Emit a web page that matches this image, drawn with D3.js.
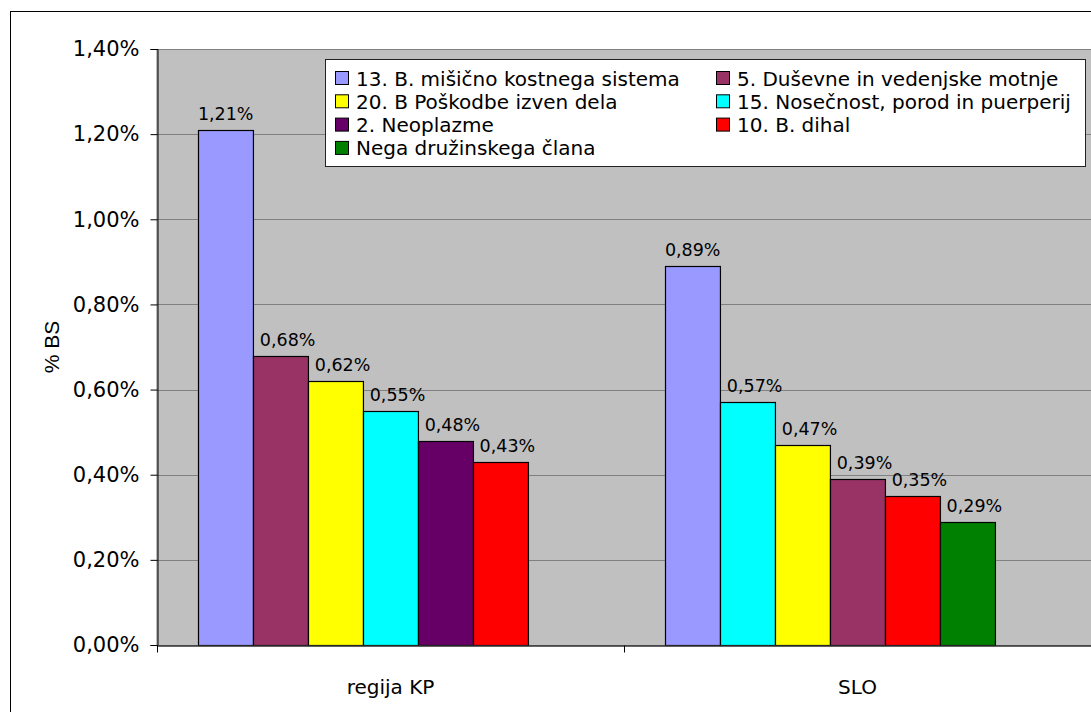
<!DOCTYPE html>
<html>
<head>
<meta charset="utf-8">
<script src="https://cdn.jsdelivr.net/npm/d3@7"></script>
<style>
  body { margin: 0; background: #fff; }
  .sans { font-family: 'DejaVu Sans', sans-serif; }
</style>
</head>
<body>
<div class="chart-container"></div>
<script>
//! DATA
const series = [
  '13. B. mišično kostnega sistema',
  '5. Duševne in vedenjske motnje',
  '20. B Poškodbe izven dela',
  '15. Nosečnost, porod in puerperij',
  '2. Neoplazme',
  '10. B. dihal',
  'Nega družinskega člana'
]
const seriesColors = ['#9999FF', '#993366', '#FFFF00', '#00FFFF', '#660066', '#FF0000', '#008000']

const groups = ['regija KP', 'SLO']

const kpSeries = ['13. B. mišično kostnega sistema', '5. Duševne in vedenjske motnje', '20. B Poškodbe izven dela',
  '15. Nosečnost, porod in puerperij', '2. Neoplazme', '10. B. dihal']
const kpValues = [1.21, 0.68, 0.62, 0.55, 0.48, 0.43]

const sloSeries = ['13. B. mišično kostnega sistema', '15. Nosečnost, porod in puerperij', '20. B Poškodbe izven dela',
  '5. Duševne in vedenjske motnje', '10. B. dihal', 'Nega družinskega člana']
const sloValues = [0.89, 0.57, 0.47, 0.39, 0.35, 0.29]

const yTicks = [0, 0.2, 0.4, 0.6, 0.8, 1.0, 1.2, 1.4]

//! CONSTS
const WIDTH = 1091
const HEIGHT = 712
const PLOT = { left: 157, top: 49, right: 1091, bottom: 645 }

const locale = d3.formatLocale({ decimal: ',', thousands: '.', grouping: [3], currency: ['', ''] })
const fmt = d => locale.format('.2f')(d) + '%'

const bars = [
  ...kpSeries.map((s, i) => ({ group: groups[0], name: s, slot: i, value: kpValues[i] })),
  ...sloSeries.map((s, i) => ({ group: groups[1], name: s, slot: i, value: sloValues[i] }))
]

//! SVG
const svg = d3.select('.chart-container')
  .append('svg')
  .attr('width', WIDTH)
  .attr('height', HEIGHT)

// outer chart border
svg.append('rect')
  .attr('x', 10.5).attr('y', 11.5)
  .attr('width', 1110).attr('height', 740)
  .attr('fill', '#fff').attr('stroke', '#000')

//! SCALES
const x0 = d3.scaleBand()
  .domain(groups)
  .range([PLOT.left, PLOT.right])

const x1 = d3.scaleBand()
  .domain(d3.range(series.length))
  .range([0, x0.bandwidth()])
  .paddingOuter(0.75)

const y = d3.scaleLinear()
  .domain([0, 1.4])
  .range([PLOT.bottom, PLOT.top])

const color = d3.scaleOrdinal().domain(series).range(seriesColors)

// plot area
svg.append('rect')
  .attr('x', PLOT.left).attr('y', PLOT.top + 0.5)
  .attr('width', PLOT.right - PLOT.left + 10).attr('height', PLOT.bottom - PLOT.top)
  .attr('fill', '#C0C0C0').attr('stroke', '#808080')

// gridlines
svg.append('g')
  .selectAll('line')
  .data(yTicks.slice(1, -1))
  .enter()
  .append('line')
  .attr('x1', PLOT.left).attr('x2', PLOT.right)
  .attr('y1', d => Math.round(y(d)) + 0.5).attr('y2', d => Math.round(y(d)) + 0.5)
  .attr('stroke', '#808080')

//! BARS
svg.append('g')
  .selectAll('rect')
  .data(bars)
  .enter()
  .append('rect')
  .attr('x', d => Math.round(x0(d.group) + x1(d.slot)) + 0.5)
  .attr('y', d => Math.round(y(d.value)) + 0.5)
  .attr('width', x1.bandwidth())
  .attr('height', d => Math.round(y(0)) - Math.round(y(d.value)))
  .attr('fill', d => color(d.name))
  .attr('stroke', '#000')
  .attr('stroke-width', 1.2)

svg.append('g')
  .selectAll('text')
  .data(bars)
  .enter()
  .append('text')
  .attr('class', 'sans')
  .attr('x', d => x0(d.group) + x1(d.slot) + x1.bandwidth() / 2 + (d.slot ? 7 : 0))
  .attr('y', d => y(d.value) - 10)
  .attr('text-anchor', 'middle')
  .attr('font-size', 17.5)
  .attr('fill', '#000')
  .text(d => fmt(d.value))

//! AXES
const yAxis = d3.axisLeft(y)
  .tickValues(yTicks)
  .tickFormat(fmt)
  .tickSize(7)
  .tickPadding(11)

const gy = svg.append('g')
  .attr('transform', `translate(${PLOT.left + 0.5},0)`)
  .call(yAxis)
gy.select('.domain').attr('stroke', '#000')
gy.selectAll('.tick line').attr('stroke', '#000')
gy.selectAll('.tick text')
  .attr('class', 'sans')
  .attr('font-size', 21)
  .attr('fill', '#000')

const xAxis = d3.axisBottom(x0)
  .tickSize(0)
  .tickPadding(34)

const gx = svg.append('g')
  .attr('transform', `translate(0,${PLOT.bottom + 0.5})`)
  .call(xAxis)
gx.select('.domain').attr('stroke', '#333').attr('stroke-width', 1.5)
gx.selectAll('.tick text')
  .attr('class', 'sans')
  .attr('font-size', 20)
  .attr('fill', '#000')

// category boundary ticks
gx.selectAll('.sep')
  .data(groups)
  .enter()
  .append('line')
  .attr('x1', d => Math.round(x0(d)) + 0.5).attr('x2', d => Math.round(x0(d)) + 0.5)
  .attr('y1', 0).attr('y2', 7)
  .attr('stroke', '#000')

// y title
svg.append('text')
  .attr('transform', `translate(59, ${(PLOT.top + PLOT.bottom) / 2}) rotate(-90)`)
  .attr('text-anchor', 'middle')
  .attr('font-family', 'Liberation Sans, Arial, sans-serif')
  .attr('font-size', 21)
  .attr('fill', '#000')
  .text('% BS')

//! LEGEND
const legend = svg.append('g')
  .attr('transform', 'translate(325, 59)')

legend.append('rect')
  .attr('x', 0.5).attr('y', 0.5)
  .attr('width', 760).attr('height', 107)
  .attr('fill', '#fff')
  .attr('stroke', '#222')

const item = legend.selectAll('.item')
  .data(series)
  .enter()
  .append('g')
  .attr('class', 'item')
  .attr('transform', (d, i) => `translate(${i % 2 ? 391 : 10}, ${12 + Math.floor(i / 2) * 23.3})`)

item.append('rect')
  .attr('x', 0.5).attr('y', 0.5)
  .attr('width', 13).attr('height', 13)
  .attr('fill', d => color(d))
  .attr('stroke', '#000')

item.append('text')
  .attr('class', 'sans')
  .attr('x', 21)
  .attr('y', 14.5)
  .attr('font-size', 20)
  .attr('fill', '#000')
  .text(d => d)
</script>
</body>
</html>
